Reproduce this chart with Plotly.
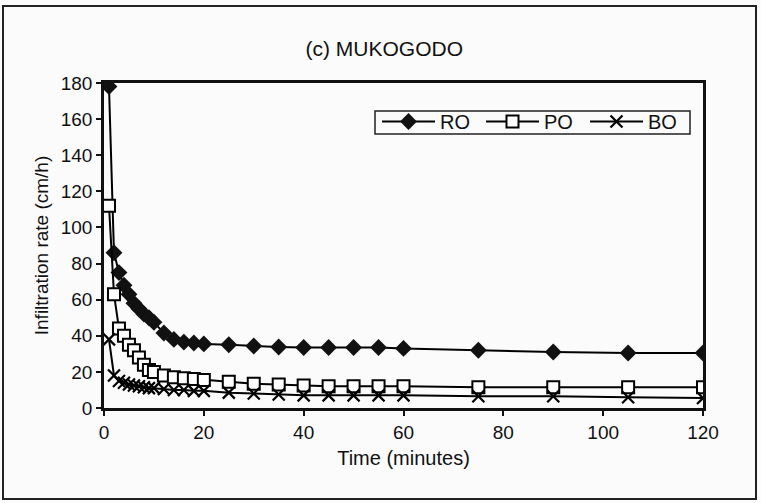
import plotly.graph_objects as go

time_min = [1, 2, 3, 4, 5, 6, 7, 8, 9, 10, 12, 14, 16, 18, 20, 25, 30, 35, 40, 45, 50, 55, 60, 75, 90, 105, 120]
ro = [178, 86, 75, 68, 63, 58, 55, 52, 50, 47.5, 41.5, 38, 36.5, 36, 35.5, 35, 34.3, 33.8, 33.5, 33.5, 33.5, 33.5, 33, 32, 31, 30.5, 30.5]
po = [112, 63, 44, 40, 35, 32, 28, 24, 21, 20, 18, 17, 16.5, 16, 15.5, 14.5, 13.5, 13, 12.5, 12, 12, 12, 12, 11.5, 11.5, 11.5, 11.5]
bo = [38, 18, 15, 14, 13, 12.5, 12, 11.5, 11, 11, 10.5, 10, 10, 9.5, 9.5, 8.5, 8, 7.5, 7, 7, 7, 7, 7, 6.5, 6.5, 6, 5.5]

x_ticks = [0, 20, 40, 60, 80, 100, 120]
y_ticks = [0, 20, 40, 60, 80, 100, 120, 140, 160, 180]

font = "Liberation Sans, Arial, sans-serif"
fig = go.Figure()
fig.add_trace(go.Scatter(x=time_min, y=ro, name="RO", mode="lines+markers",
                         line=dict(color="black", width=2),
                         marker=dict(symbol="diamond", size=13, color="#111")))
fig.add_trace(go.Scatter(x=time_min, y=po, name="PO", mode="lines+markers",
                         line=dict(color="black", width=2),
                         marker=dict(symbol="square", size=12, color="white",
                                     line=dict(color="black", width=2))))
fig.add_trace(go.Scatter(x=time_min, y=bo, name="BO", mode="lines+markers",
                         line=dict(color="black", width=2),
                         marker=dict(symbol="x-thin", size=12, color="black",
                                     line=dict(color="black", width=2.2))))

# plot area in pixels: x 104..703, y 83..408
def px_x(p):
    return (p - 104) / 599

def px_y(p):
    return (408 - p) / 325

fig.update_layout(
    width=761, height=503,
    margin=dict(l=104, r=58, t=83, b=95),
    paper_bgcolor="#fbfbfb", plot_bgcolor="#fbfbfb",
    font=dict(family=font, size=19, color="#111"),
    title=dict(text="(c) MUKOGODO", x=0.505, xanchor="center", y=0.903, yanchor="middle",
               font=dict(size=21, family=font, color="#111")),
    showlegend=True,
    legend=dict(orientation="h", x=px_x(377), y=px_y(102), xanchor="left", yanchor="top",
                borderwidth=0, bgcolor="rgba(0,0,0,0)",
                font=dict(size=20, family=font), itemwidth=53,
                entrywidth=36, entrywidthmode="pixels",
                tracegroupgap=0),
    xaxis=dict(range=[0, 120], tickvals=x_ticks, ticks="outside", ticklen=5,
               tickcolor="#111", tickwidth=2, showgrid=False, zeroline=False,
               showline=True, linecolor="#111", linewidth=2.5, mirror=True,
               tickfont=dict(size=19),
               title=dict(text="Time (minutes)", font=dict(size=20), standoff=10)),
    yaxis=dict(range=[0, 180], tickvals=y_ticks, ticks="outside", ticklen=5,
               tickcolor="#111", tickwidth=2, showgrid=False, zeroline=False,
               showline=True, linecolor="#111", linewidth=2.5, mirror=True,
               tickfont=dict(size=19),
               title=dict(text="Infiltration rate (cm/h)", font=dict(size=19), standoff=8)),
    shapes=[
        dict(type="rect", xref="paper", yref="paper",
             x0=px_x(3), x1=px_x(756), y0=px_y(499), y1=px_y(6),
             line=dict(color="#222", width=2), fillcolor="rgba(0,0,0,0)", layer="below"),
        dict(type="rect", xref="paper", yref="paper",
             x0=px_x(375), x1=px_x(690), y0=px_y(134), y1=px_y(111),
             line=dict(color="#222", width=1.5), fillcolor="#fbfbfb", layer="below"),
    ],
)
fig.write_html("out.html")
